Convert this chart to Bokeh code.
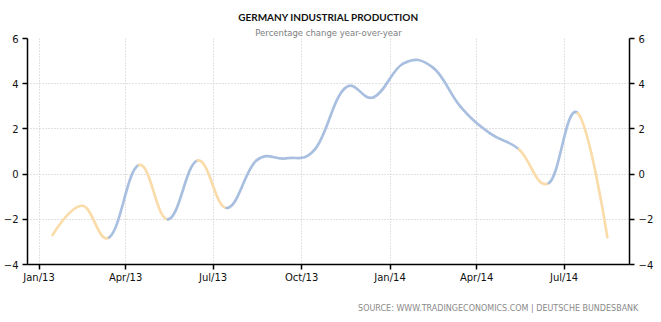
import pandas as pd
from bokeh.plotting import figure
from bokeh.models import (ColumnDataSource, FixedTicker, DatetimeTickFormatter,
                          LinearAxis, Range1d, Title)
from bokeh.embed import file_html
from bokeh.resources import INLINE

# ---- data ----
months = ["2013-01", "2013-02", "2013-03", "2013-04", "2013-05", "2013-06",
          "2013-07", "2013-08", "2013-09", "2013-10", "2013-11", "2013-12",
          "2014-01", "2014-02", "2014-03", "2014-04", "2014-05", "2014-06",
          "2014-07", "2014-08"]
yoy = [-2.7, -1.4, -2.8, 0.4, -2.0, 0.6, -1.5, 0.6, 0.7, 1.1, 3.8, 3.4,
       4.9, 4.7, 3.0, 1.8, 1.1, -0.4, 2.7, -2.8]
# segment flag as coloured in the source (1 = orange, 0 = blue)
segment_flag = [1, 1, 0, 1, 0, 1, 0, 0, 0, 0, 0, 0, 0, 0, 0, 0, 1, 0, 1]
x_tick_dates = ["2013-01-01", "2013-04-01", "2013-07-01", "2013-10-01",
                "2014-01-01", "2014-04-01", "2014-07-01"]
y_ticks = [-4, -2, 0, 2, 4, 6]

BLUE = "#a9bfe0"
ORANGE = "#f9dcaa"


def to_ms(s):
    return pd.Timestamp(s).value / 1e6


xs = [to_ms(m + "-15") for m in months]
ys = list(yoy)


def spline_controls(xs, ys, smoothing=1.5):
    """Control points of a classic (unclamped) smoothed spline through the points."""
    n = len(xs)
    lc = [(xs[i], ys[i]) for i in range(n)]
    rc = [(xs[i], ys[i]) for i in range(n)]
    denom = smoothing + 1
    for i in range(1, n - 1):
        px, py = xs[i], ys[i]
        lx, ly = xs[i - 1], ys[i - 1]
        nx, ny = xs[i + 1], ys[i + 1]
        lcx = (smoothing * px + lx) / denom
        lcy = (smoothing * py + ly) / denom
        rcx = (smoothing * px + nx) / denom
        rcy = (smoothing * py + ny) / denom
        if rcx != lcx:
            corr = ((rcy - lcy) * (rcx - px)) / (rcx - lcx) + py - rcy
            lcy += corr
            rcy += corr
        lc[i] = (lcx, lcy)
        rc[i] = (rcx, rcy)
    return lc, rc


lc, rc = spline_controls(xs, ys)
seg = dict(x0=[], y0=[], x1=[], y1=[], cx0=[], cy0=[], cx1=[], cy1=[], color=[])
for i in range(len(xs) - 1):
    seg["x0"].append(xs[i]); seg["y0"].append(ys[i])
    seg["x1"].append(xs[i + 1]); seg["y1"].append(ys[i + 1])
    seg["cx0"].append(rc[i][0]); seg["cy0"].append(rc[i][1])
    seg["cx1"].append(lc[i + 1][0]); seg["cy1"].append(lc[i + 1][1])
    seg["color"].append(ORANGE if segment_flag[i] else BLUE)
src = ColumnDataSource(seg)

FONT = "DejaVu Sans"

p = figure(width=661, height=322, x_axis_type="datetime",
           output_backend="svg", toolbar_location=None,
           x_range=Range1d(to_ms("2012-12-20"), to_ms("2014-09-07")),
           y_range=Range1d(-4, 6),
           min_border_left=22, min_border_right=32,
           min_border_top=38, min_border_bottom=58)
p.outline_line_color = None
p.background_fill_color = "white"
p.border_fill_color = "white"

p.bezier(x0="x0", y0="y0", x1="x1", y1="y1", cx0="cx0", cy0="cy0",
         cx1="cx1", cy1="cy1", line_color="color", line_width=2.7,
         line_cap="round", source=src)

# titles
p.title.text = ""
sub = Title(text="Percentage change year-over-year", align="center",
            text_font=FONT, text_font_size="8.5px", text_font_style="normal",
            text_color="#808080", standoff=2)
p.add_layout(sub, "above")
main = Title(text="GERMANY INDUSTRIAL PRODUCTION", align="center",
             text_font="Lato", text_font_size="10px", text_font_style="bold",
             text_color="#111111", standoff=4)
p.add_layout(main, "above")

# axes
xt = FixedTicker(ticks=[to_ms(d) for d in x_tick_dates])
p.xaxis.ticker = xt
p.xaxis.formatter = DatetimeTickFormatter(months="%b/%y", days="%b/%y",
                                          years="%b/%y")
yt = FixedTicker(ticks=y_ticks)
p.yaxis.ticker = yt
right = LinearAxis(ticker=FixedTicker(ticks=y_ticks))
p.add_layout(right, "right")

for ax in [p.xaxis[0], p.yaxis[0], right]:
    ax.axis_line_color = "black"
    ax.axis_line_width = 1.5
    ax.major_tick_line_color = "black"
    ax.major_tick_line_width = 1.5
    ax.major_tick_out = 5
    ax.major_tick_in = 0
    ax.minor_tick_line_color = None
    ax.major_label_text_font = FONT
    ax.major_label_text_font_size = "10px"
    ax.major_label_text_color = "#111111"
    ax.major_label_standoff = 4
p.xaxis[0].major_label_standoff = 2

p.xgrid.ticker = xt
p.ygrid.ticker = yt
for g in [p.xgrid[0], p.ygrid[0]]:
    g.grid_line_color = "#c4c4c4"
    g.grid_line_dash = "1 2"
    g.grid_line_width = 1

spacer = Title(text=" ", text_font=FONT, text_font_size="5px",
               text_color="white", standoff=0)
p.add_layout(spacer, "below")
src_title = Title(text="SOURCE:  WWW.TRADINGECONOMICS.COM  |  DEUTSCHE  BUNDESBANK",
                  align="right", text_font=FONT, text_font_size="8px",
                  text_font_style="normal", text_color="#8a8a8a", standoff=17,
                  offset=-19)
p.add_layout(src_title, "below")

open("out.html", "w").write(file_html(p, INLINE))
